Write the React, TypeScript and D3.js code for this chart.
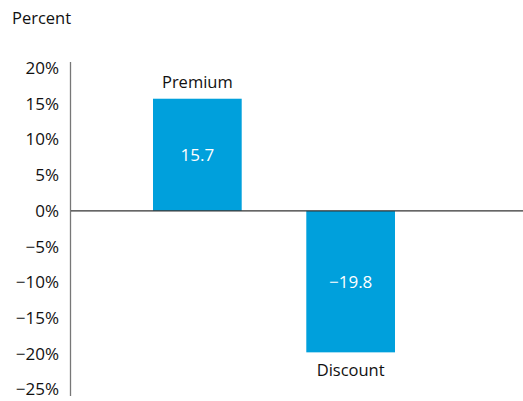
import React from "react";
import * as d3 from "d3";

const categories = ["Premium", "Discount"];
const values = [15.7, -19.8];
const valueLabels = ["15.7", "\u221219.8"];
const yTicks = [20, 15, 10, 5, 0, -5, -10, -15, -20, -25];

const W = 523;
const H = 401;
const BLUE = "#00A0DC";
const FONT = "'Open Sans', 'Noto Sans', sans-serif";

export default function App() {
  const y = d3.scaleLinear().domain([-25, 20]).range([389.5, 68]);
  const x = d3
    .scaleBand<string>()
    .domain(categories)
    .range([88.4, 459.6])
    .paddingInner(0.4214)
    .paddingOuter(0.4214);
  const y0 = y(0);
  const fmt = (v: number) => (v < 0 ? "\u2212" + Math.abs(v) : String(v)) + "%";

  return (
    <svg
      width={W}
      height={H}
      style={{ position: "absolute", left: 0, top: 0, display: "block" }}
      fontFamily={FONT}
    >
      <rect width={W} height={H} fill="#fff" />
      <text x={12} y={24} fontSize={16.5} fill="#111">
        Percent
      </text>
      {yTicks.map((t) => (
        <text
          key={t}
          x={59}
          y={y(t)}
          dy="0.35em"
          textAnchor="end"
          fontSize={17}
          fill="#111"
        >
          {fmt(t)}
        </text>
      ))}
      {categories.map((c, i) => {
        const v = values[i];
        const bx = x(c)!;
        const bw = x.bandwidth();
        const top = Math.min(y(v), y0);
        const h = Math.abs(y(v) - y0);
        const cx = bx + bw / 2;
        return (
          <g key={c}>
            <rect x={bx} y={top} width={bw} height={h} fill={BLUE} />
            <text
              x={cx}
              y={top + h / 2}
              dy="0.35em"
              textAnchor="middle"
              fontSize={17}
              fill="#fff"
            >
              {valueLabels[i]}
            </text>
            <text
              x={cx}
              y={v >= 0 ? y(v) - 11 : y(v) + 24}
              textAnchor="middle"
              fontSize={16.5}
              fill="#111"
            >
              {c}
            </text>
          </g>
        );
      })}
      <line x1={70.5} x2={70.5} y1={62} y2={396} stroke="#777" strokeWidth={1.3} />
      <line x1={71} x2={W} y1={y0} y2={y0} stroke="#333" strokeWidth={1.3} />
    </svg>
  );
}
